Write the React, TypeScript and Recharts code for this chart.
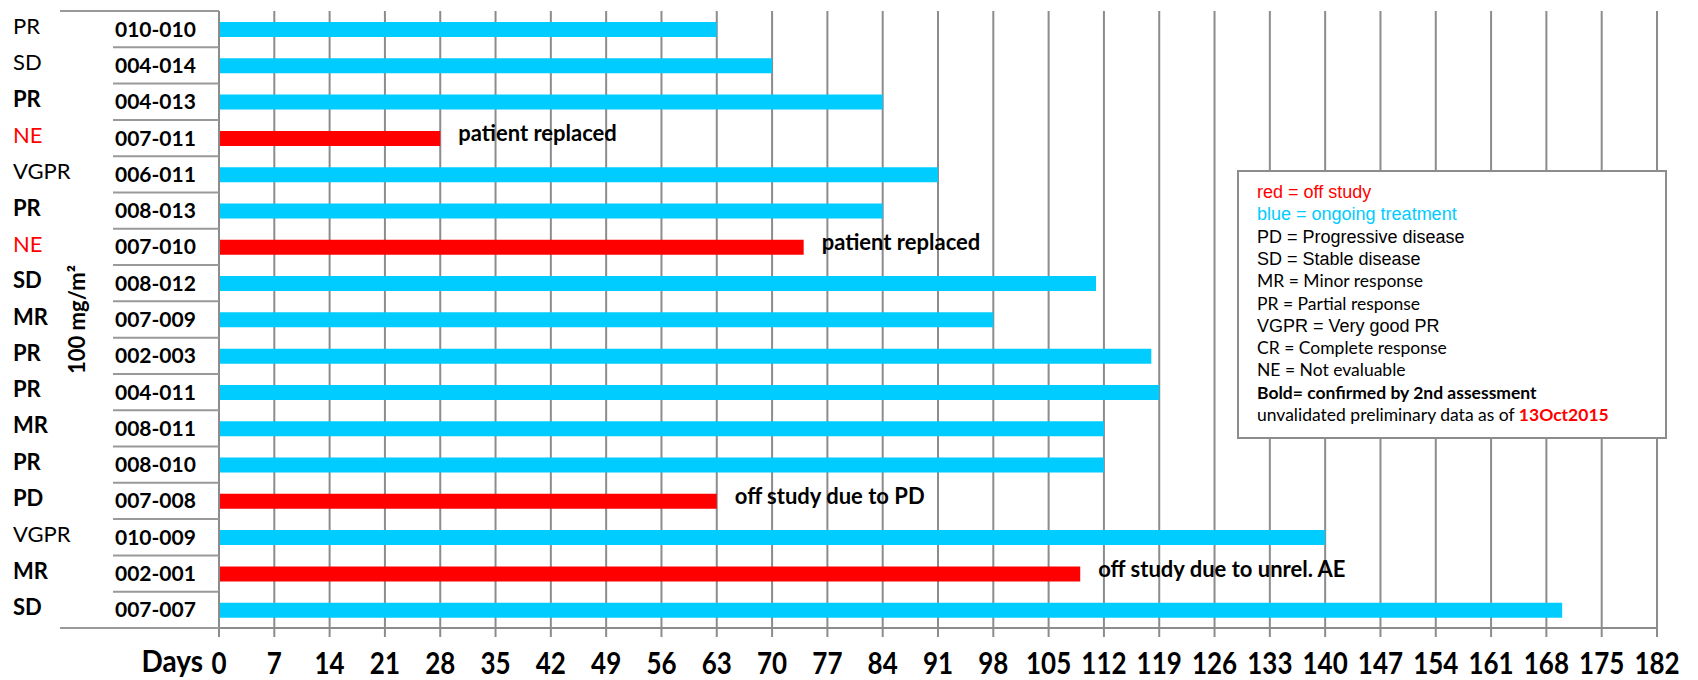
import { BarChart, Bar, XAxis, YAxis, CartesianGrid, Cell, LabelList } from "recharts";

// patients, top to bottom
const patients = [
  "010-010", "004-014", "004-013", "007-011", "006-011", "008-013", "007-010", "008-012", "007-009",
  "002-003", "004-011", "008-011", "008-010", "007-008", "010-009", "002-001", "007-007",
];
const daysOnStudy = [63, 70, 84, 28, 91, 84, 74, 111, 98, 118, 119, 112, 112, 63, 140, 109, 170];
const responses = ["PR", "SD", "PR", "NE", "VGPR", "PR", "NE", "SD", "MR", "PR", "PR", "MR", "PR", "PD", "VGPR", "MR", "SD"];
const confirmed = [false, false, true, false, false, true, false, true, true, true, true, true, true, true, false, true, true];
const offStudy = [false, false, false, true, false, false, true, false, false, false, false, false, false, true, false, true, false];
const notes = ["", "", "", "patient replaced", "", "", "patient replaced", "", "", "", "", "", "", "off study due to PD", "", "off study due to unrel. AE", ""];
const dayTicks = [0, 7, 14, 21, 28, 35, 42, 49, 56, 63, 70, 77, 84, 91, 98, 105, 112, 119, 126, 133, 140, 147, 154, 161, 168, 175, 182];

const legendLines = [
  { text: "red = off study", color: "#FF0000", font: "arial" },
  { text: "blue = ongoing treatment", color: "#00CCFF", font: "arial" },
  { text: "PD = Progressive disease", color: "#000", font: "arial" },
  { text: "SD = Stable disease", color: "#000", font: "arial" },
  { text: "MR = Minor response", color: "#000", font: "calibri" },
  { text: "PR = Partial response", color: "#000", font: "calibri" },
  { text: "VGPR = Very good PR", color: "#000", font: "arial" },
  { text: "CR = Complete response", color: "#000", font: "calibri" },
  { text: "NE = Not evaluable", color: "#000", font: "calibri" },
  { text: "Bold= confirmed by 2nd assessment", color: "#000", font: "calibri", bold: true },
];

const BLUE = "#00CCFF";
const RED = "#FF0000";
const GRID = "#8c8c8c";
const CAL = "Lato, 'Open Sans', sans-serif";
const ARIAL = "'Liberation Sans', Arial, sans-serif";

const W = 1698;
const H = 680;
const PLOT_TOP = 11;
const PLOT_BOTTOM = 628;
const LEFT = 219;
const rowH = (PLOT_BOTTOM - PLOT_TOP) / patients.length;

const data = patients.map((id, i) => ({
  id,
  days: daysOnStudy[i],
  note: notes[i],
}));

const PatientTick = (props: any) => {
  const { y, payload } = props;
  const i = props.index ?? patients.indexOf(payload.value);
  const top = y - rowH / 2;
  return (
    <g>
      <line x1={i === 0 ? 60 : 113} x2={LEFT} y1={top} y2={top} stroke="#999" strokeWidth={2} />
      {i === patients.length - 1 && (
        <line x1={60} x2={LEFT} y1={top + rowH} y2={top + rowH} stroke="#999" strokeWidth={2} />
      )}
      <text x={115} y={y + 7.5} fontFamily={CAL} fontWeight={700} fontSize={21} fill="#000">
        {payload.value}
      </text>
      <text
        x={13}
        y={y + 5}
        fontFamily={CAL}
        fontWeight={confirmed[i] ? 700 : 400}
        fontSize={22}
        fill={responses[i] === "NE" ? RED : "#000"}
      >
        {responses[i]}
      </text>
    </g>
  );
};

const DayTick = (props: any) => {
  const { x, payload } = props;
  return (
    <g transform={`translate(${x},674) scale(1,1.18)`}>
      <text textAnchor="middle" fontFamily={CAL} fontWeight={700} fontSize={26} fill="#000">
        {payload.value}
      </text>
    </g>
  );
};

const renderNote = (props: any) => {
  const { x, y, width, height, value } = props;
  if (!value) return null;
  return (
    <text x={x + width + 18} y={y + height / 2 + 3} fontFamily={CAL} fontWeight={700} fontSize={22} fill="#000">
      {value}
    </text>
  );
};

const doseLabel = () => (
  <text
    transform={`translate(85,${(PLOT_TOP + PLOT_BOTTOM) / 2}) rotate(-90)`}
    textAnchor="middle"
    fontFamily={CAL}
    fontWeight={700}
    fontSize={22}
    fill="#000"
  >
    100 mg/m²
  </text>
);

const daysLabel = () => (
  <g transform="translate(203,672) scale(1,1.08)">
    <text textAnchor="end" fontFamily={CAL} fontWeight={700} fontSize={28} fill="#000">
      Days
    </text>
  </g>
);

export default function App() {
  return (
    <div style={{ position: "absolute", left: 0, top: 0, width: W, height: H, background: "#fff" }}>
      <BarChart
        width={W}
        height={H}
        data={data}
        layout="vertical"
        margin={{ top: PLOT_TOP, right: W - 1657, bottom: 0, left: 0 }}
      >
        <CartesianGrid horizontal={false} stroke={GRID} strokeWidth={2} />
        <XAxis
          type="number"
          domain={[0, 182]}
          ticks={dayTicks}
          interval={0}
          height={H - PLOT_BOTTOM}
          axisLine={{ stroke: GRID, strokeWidth: 2 }}
          tickLine={{ stroke: GRID, strokeWidth: 2 }}
          tickSize={9}
          tick={<DayTick />}
          label={daysLabel}
        />
        <YAxis
          type="category"
          dataKey="id"
          width={LEFT}
          interval={0}
          axisLine={{ stroke: GRID, strokeWidth: 2 }}
          tickLine={false}
          tick={<PatientTick />}
          label={doseLabel}
        />
        <Bar dataKey="days" barSize={15} isAnimationActive={false}>
          {data.map((d, i) => (
            <Cell key={d.id} fill={offStudy[i] ? RED : BLUE} />
          ))}
          <LabelList dataKey="note" content={renderNote} />
        </Bar>
      </BarChart>
      <svg width={W} height={H} style={{ position: "absolute", left: 0, top: 0, pointerEvents: "none" }}>
        <rect x={1238} y={171} width={428} height={267} fill="#fff" stroke={GRID} strokeWidth={2} />
        {legendLines.map((l, i) => (
          <text
            key={l.text}
            x={1257}
            y={198 + i * 22.3}
            fill={l.color}
            fontFamily={l.font === "arial" ? ARIAL : CAL}
            fontSize={l.font === "arial" ? 18 : 17.5}
            fontWeight={l.bold ? 700 : 400}
          >
            {l.text}
          </text>
        ))}
        <text x={1257} y={421} fontFamily={CAL} fontSize={17.5} fill="#000">
          unvalidated preliminary data as of{" "}
          <tspan fill={RED} fontWeight={700}>
            13Oct2015
          </tspan>
        </text>
      </svg>
    </div>
  );
}
